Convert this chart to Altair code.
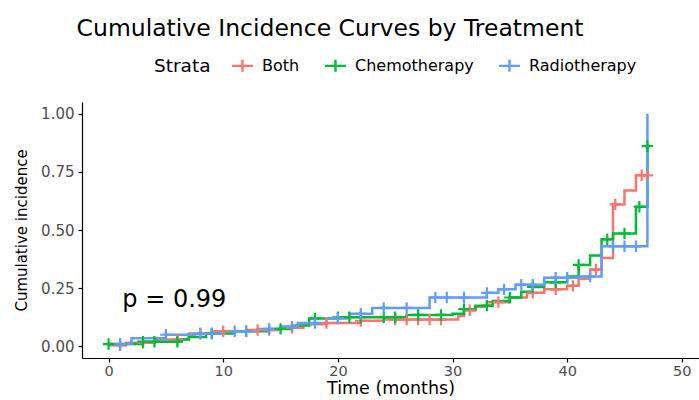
import altair as alt
import numpy as np
import pandas as pd

# Cumulative incidence step curves (time in months, value after each event)
strata = ["Both", "Chemotherapy", "Radiotherapy"]
colors = ["#F8766D", "#00BA38", "#619CFF"]

both_t = [0, 1.5, 4, 7, 9, 12, 15, 17, 19, 22, 24, 30.5, 31, 32, 33, 35, 36.5, 38, 40, 41, 42, 43, 44, 45, 46, 47]
both_v = [0.005, 0.015, 0.03, 0.055, 0.065, 0.07, 0.08, 0.095, 0.10, 0.11, 0.115, 0.13, 0.155, 0.17, 0.19, 0.21,
          0.23, 0.245, 0.26, 0.29, 0.33, 0.38, 0.61, 0.67, 0.735, 0.735]

chemo_t = [0, 3, 6.2, 7, 8.5, 11, 14, 16, 17.5, 20, 26, 30, 31, 32, 33.5, 35, 36, 37, 38, 40, 41, 42, 43, 44, 46, 47]
chemo_v = [0.01, 0.02, 0.03, 0.04, 0.055, 0.065, 0.075, 0.09, 0.12, 0.125, 0.135, 0.14, 0.16, 0.175, 0.195, 0.21,
           0.235, 0.255, 0.275, 0.30, 0.35, 0.39, 0.46, 0.485, 0.60, 0.86]

radio_t = [0, 2, 5, 7.5, 10, 13, 15, 16.5, 19, 21, 23, 28, 33, 34, 35.5, 38, 41, 43, 47]
radio_v = [0.01, 0.035, 0.05, 0.055, 0.065, 0.075, 0.085, 0.10, 0.12, 0.14, 0.165, 0.21, 0.23, 0.245, 0.265,
           0.295, 0.30, 0.43, 1.0]

# Censoring times (drawn as "+" on each curve)
both_cens = [1, 3, 6, 8, 10, 13, 14, 16, 19, 22, 25, 26, 27, 28, 29, 31.5, 34, 37, 39, 40.5, 42.5, 44.2, 46.5, 47]
chemo_cens = [0, 1, 3, 4, 6, 9, 12, 15, 18, 20, 21, 22, 24, 25, 27, 29, 31, 33, 35, 37, 39, 41, 43.5, 45, 46.3, 47]
radio_cens = [1, 5, 8, 9, 11, 12, 14, 16, 18, 20, 22, 24, 26, 28.5, 29.5, 31, 33, 34.5, 36, 37, 39, 40, 42, 44, 45, 46]

x_ticks = [0, 10, 20, 30, 40, 50]
y_ticks = [0, 0.25, 0.5, 0.75, 1.0]

curves = [(both_t, both_v, both_cens), (chemo_t, chemo_v, chemo_cens), (radio_t, radio_v, radio_cens)]

line_rows, cens_rows = [], []
for order, (name, (ts, vs, cs)) in enumerate(zip(strata, curves)):
    for t, v in zip(ts, vs):
        line_rows.append({"Strata": name, "time": t, "ci": v, "order": order})
    ts_arr = np.array(ts)
    for c in cs:
        idx = np.searchsorted(ts_arr, c, side="right") - 1
        cens_rows.append({"Strata": name, "time": c, "ci": vs[max(idx, 0)], "order": order})

lines_df = pd.DataFrame(line_rows)
cens_df = pd.DataFrame(cens_rows)

FONT = "DejaVu Sans"
plus_path = "M-1,0L1,0M0,-1L0,1"

color_scale = alt.Scale(domain=strata, range=colors)
x_scale = alt.Scale(domain=[-2.32, 51.5], nice=False, zero=False)
y_scale = alt.Scale(domain=[-0.05, 1.05], nice=False, zero=False)

x_enc = alt.X("time:Q", scale=x_scale,
              axis=alt.Axis(values=x_ticks, title="Time (months)", format="d", grid=False))
y_enc = alt.Y("ci:Q", scale=y_scale,
              axis=alt.Axis(values=y_ticks, title="Cumulative incidence", format=".2f", grid=False))

lines = alt.Chart(lines_df).mark_line(interpolate="step-after", strokeWidth=2.5, clip=True).encode(
    x=x_enc,
    y=y_enc,
    color=alt.Color("Strata:N", scale=color_scale, sort=strata,
                    legend=alt.Legend(
                        orient="none", legendX=72, legendY=-46, direction="horizontal",
                        titleOrient="left", title="Strata",
                        symbolType="M-1.3,0L1.3,0M0,-0.75L0,0.75",
                        symbolSize=260, symbolStrokeWidth=2.4,
                        columnPadding=20, labelOffset=10)),
    detail="Strata:N",
    order="order:Q",
)

censors = alt.Chart(cens_df).mark_point(shape=plus_path, size=130, strokeWidth=2.2, filled=False,
                                        opacity=1, clip=True).encode(
    x="time:Q",
    y="ci:Q",
    color=alt.Color("Strata:N", scale=color_scale, sort=strata, legend=None),
)

pval = alt.Chart(pd.DataFrame({"time": [1.2], "ci": [0.2], "label": ["p = 0.99"]})).mark_text(
    align="left", baseline="middle", fontSize=24, font=FONT, color="black"
).encode(x="time:Q", y="ci:Q", text="label:N")

chart = alt.layer(lines, censors, pval).properties(
    width=617,
    height=256,
    autosize=alt.AutoSizeParams(type="none"),
    padding={"left": 82, "top": 102, "right": 0, "bottom": 42},
    background="white",
    title=alt.TitleParams("Cumulative Incidence Curves by Treatment", anchor="start", fontSize=23.5,
                          font=FONT, fontWeight="normal", color="black", offset=16, dx=62),
).configure_view(stroke=None).configure_axis(
    domainColor="black", domainWidth=1.2, tickColor="black", tickWidth=1.2, tickSize=4,
    labelColor="#4D4D4D", labelFontSize=15, labelFont=FONT, labelPadding=4,
    titleColor="black", titleFont=FONT, titleFontWeight="normal",
).configure_axisX(titleFontSize=17.5, titlePadding=2, labelPadding=2, labelFontSize=14.5).configure_axisY(
    titleFontSize=15, titlePadding=11
).configure_legend(
    titleFont=FONT, titleFontSize=18.5, titleFontWeight="normal", titleColor="black",
    labelFont=FONT, labelFontSize=16, labelColor="black", titlePadding=22,
)

chart.save("out.html", embed_options={"renderer": "svg", "actions": False})
